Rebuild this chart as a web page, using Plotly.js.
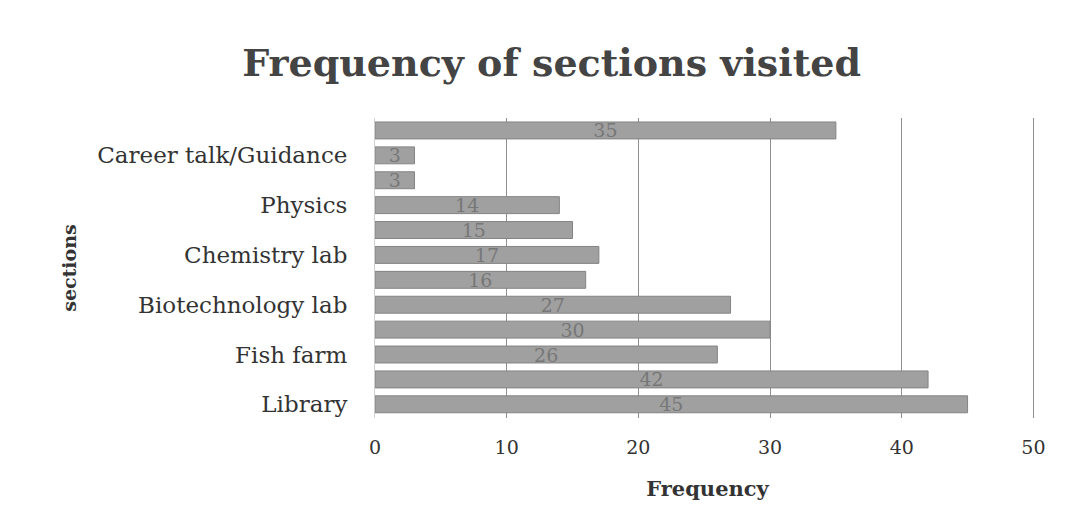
<!DOCTYPE html>
<html>
<head>
<meta charset="utf-8">
<script src="https://cdn.plot.ly/plotly-3.0.1.min.js"></script>
<style>
  body { margin: 0; background: #fff; }
  #chart { width: 1071px; height: 523px; }
</style>
</head>
<body>
<div id="chart"></div>
<script>
// sections from bottom to top, only every other one is labelled in the picture
var sections = ["Library", "", "Fish farm", "", "Biotechnology lab", "", "Chemistry lab", "", "Physics", "", "Career talk/Guidance", ""]
var frequency = [45, 42, 26, 30, 27, 16, 17, 15, 14, 3, 3, 35]
var freqTicks = [0, 10, 20, 30, 40, 50]

var positions = sections.map(function (s, i) { return i })

var serif = "DejaVu Serif, Liberation Serif, serif"

var data = [{
    type: "bar",
    orientation: "h",
    x: frequency,
    y: positions,
    text: frequency.map(String),
    textposition: "inside",
    insidetextanchor: "middle",
    constraintext: "none",
    textangle: 0,
    cliponaxis: false,
    textfont: {family: serif, size: 19, color: "#777777"},
    marker: {color: "#a0a0a0", line: {color: "#848484", width: 1}},
    hoverinfo: "none"
}]

var layout = {
    width: 1071,
    height: 523,
    margin: {l: 375, r: 31, t: 118, b: 105},
    paper_bgcolor: "#ffffff",
    plot_bgcolor: "#ffffff",
    bargap: 0.32,
    showlegend: false,
    title: {
        text: "<b>Frequency of sections visited</b>",
        font: {family: serif, size: 38, color: "#444444"},
        x: 0.515, xanchor: "center",
        y: 0.88, yanchor: "middle"
    },
    xaxis: {
        range: [0, 50.5],
        tickvals: freqTicks,
        showgrid: true,
        gridcolor: "#8f8f8f",
        gridwidth: 1,
        zeroline: false,
        showline: false,
        ticks: "",
        ticklabelstandoff: 16,
        tickfont: {family: serif, size: 19, color: "#333333"},
        title: {text: "<b>Frequency</b>", font: {family: serif, size: 21, color: "#333333"}, standoff: 24}
    },
    yaxis: {
        range: [-0.55, 11.5],
        tickvals: positions,
        ticktext: sections,
        showgrid: false,
        zeroline: false,
        showline: true,
        linecolor: "#d0d0d0",
        ticks: "",
        ticklabelstandoff: 22,
        tickfont: {family: serif, size: 23, color: "#333333"},
        title: {text: "<b>sections</b>", font: {family: serif, size: 19, color: "#333333"}, standoff: 15}
    }
}

Plotly.newPlot("chart", data, layout, {staticPlot: true})
</script>
</body>
</html>
